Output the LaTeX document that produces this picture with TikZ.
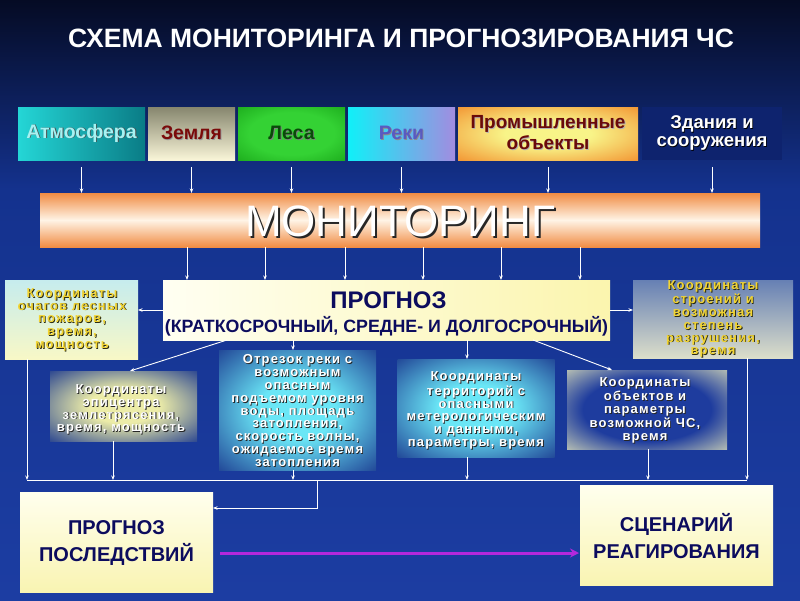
\documentclass[tikz,border=0pt]{standalone}
\usepackage{fontspec}
\setmainfont{Liberation Sans}
\newfontfamily\spaced[LetterSpace=9]{Liberation Sans}
\usetikzlibrary{arrows.meta,calc}
\definecolor{bgTop}{HTML}{050B24}
\definecolor{bgMid}{HTML}{14328E}
\definecolor{bgBot}{HTML}{1C3DA2}
\definecolor{atmL}{HTML}{24D6D6}
\definecolor{atmR}{HTML}{0A7C86}
\definecolor{atmT}{HTML}{A6F2F2}
\definecolor{zemT}{HTML}{F9F5D8}
\definecolor{zemB}{HTML}{86866E}
\definecolor{zemX}{HTML}{7A0A0A}
\definecolor{lesIn}{HTML}{34D234}
\definecolor{lesOut}{HTML}{0A8E0A}
\definecolor{lesX}{HTML}{0A4A0A}
\definecolor{rekL}{HTML}{10F0F8}
\definecolor{rekR}{HTML}{A28CE0}
\definecolor{rekX}{HTML}{5A5AC0}
\definecolor{promIn}{HTML}{F8F488}
\definecolor{promOut}{HTML}{F06E10}
\definecolor{promX}{HTML}{6A0A0A}
\definecolor{zdF}{HTML}{0E236E}
\definecolor{monE}{HTML}{F08C44}
\definecolor{monM}{HTML}{FFF4E6}
\definecolor{progL}{HTML}{FFFFF2}
\definecolor{progR}{HTML}{FBF5AE}
\definecolor{navyT}{HTML}{0C0C5E}
\definecolor{lbT}{HTML}{C6ECEE}
\definecolor{lbB}{HTML}{F8F8C6}
\definecolor{rbT}{HTML}{6680B4}
\definecolor{rbB}{HTML}{DCDECA}
\definecolor{gold}{HTML}{F2D432}
\definecolor{goldSh}{HTML}{2A2A12}
\definecolor{eqIn}{HTML}{ECECA8}
\definecolor{cyIn}{HTML}{6AE6F6}
\definecolor{glowOut}{HTML}{1A378E}
\definecolor{objIn}{HTML}{1E3C9E}
\definecolor{objOut}{HTML}{F2F2BC}
\definecolor{botT}{HTML}{FFFFEE}
\definecolor{botB}{HTML}{F9F4B2}
\definecolor{magenta}{HTML}{B428DC}
\pgfdeclareradialshading{glowY}{\pgfpoint{0bp}{0bp}}{color(0bp)=(eqIn); color(12bp)=(eqIn); color(38bp)=(glowOut); color(50bp)=(glowOut)}
\pgfdeclareradialshading{glowC}{\pgfpoint{0bp}{0bp}}{color(0bp)=(cyIn); color(12bp)=(cyIn); color(38bp)=(glowOut); color(50bp)=(glowOut)}
\pgfdeclareradialshading{glowO}{\pgfpoint{0bp}{0bp}}{color(0bp)=(objIn); color(20bp)=(objIn); color(42bp)=(objOut); color(50bp)=(objOut)}
\pgfdeclareradialshading{glowL}{\pgfpoint{0bp}{0bp}}{color(0bp)=(lesIn); color(20bp)=(lesIn); color(50bp)=(lesOut)}
\pgfdeclareradialshading{glowP}{\pgfpoint{0bp}{0bp}}{color(0bp)=(promIn); color(12bp)=(promIn); color(46bp)=(promOut); color(50bp)=(promOut)}
\newcommand\shd[3][0.9pt]{\makebox[0pt][l]{\kern#1\raisebox{-#1}{\textcolor{#2}{#3}}}#3}
\newcommand\wl[1]{\shd{black!85}{#1}}
\newcommand\gl[1]{\shd{goldSh}{#1}}
\begin{document}
\begin{tikzpicture}[x=1pt,y=-1pt,
  every node/.style={inner sep=0pt,outer sep=0pt},
  arr/.style={draw=white,line width=0.9pt,-{Stealth[length=4.5pt,width=3.5pt]}},
  ln/.style={draw=white,line width=0.9pt},
  topbox/.style={rectangle,minimum height=53pt,align=center,font=\bfseries\fontsize{19.5}{19.5}\selectfont},
  plain/.style={rectangle},
  midtxt/.style={align=center,text=white,font=\spaced\bfseries\fontsize{13}{12.8}\selectfont},
  goldtxt/.style={align=center,text=gold,font=\spaced\bfseries\fontsize{13}{12.7}\selectfont},
  bottxt/.style={align=center,text=navyT,font=\bfseries\fontsize{20}{27}\selectfont}]
\useasboundingbox (0,0) rectangle (800,600);
% background
\shade[top color=bgTop,bottom color=bgMid] (0,0) rectangle (800,190);
\shade[top color=bgMid,bottom color=bgBot] (0,190) rectangle (800,600);
% title
\node[text=white,font=\bfseries\fontsize{26.5}{26.5}\selectfont] (title) at (401,38) {СХЕМА МОНИТОРИНГА И ПРОГНОЗИРОВАНИЯ ЧС};
% top row
\node[topbox,minimum width=127pt,left color=atmL,right color=atmR,text=atmT] (atm) at (81.5,133.5) {\shd{black!70}{Атмосфера}};
\node[topbox,minimum width=87pt,top color=zemB,bottom color=zemT,text=zemX] (zem) at (191.5,133.5) {\shd{black!40}{Земля}};
\node[topbox,minimum width=107pt,shading=glowL,text=lesX] (les) at (291.5,133.5) {\shd{black!50}{Леса}};
\node[topbox,minimum width=107pt,left color=rekL,right color=rekR,text=rekX] (rek) at (401.5,133.5) {\shd{black!45}{Реки}};
\node[topbox,minimum width=180pt,shading=glowP,text=promX,font=\bfseries\fontsize{19}{21}\selectfont] (prom) at (548,133.5) {\shd{black!30}{Промышленные}\\\shd{black!30}{объекты}};
\node[topbox,minimum width=140pt,fill=zdF,text=white,font=\bfseries\fontsize{18.5}{18.5}\selectfont] (zd) at (712,133.5) {\shd[0.7pt]{black}{Здания и}\\\shd[0.7pt]{black}{сооружения}};
% monitoring
\node[plain,minimum width=720pt,minimum height=54pt,top color=monE,bottom color=monE,middle color=monM] (mon) at (400,220) {};
\node[text=white,font=\fontsize{44}{44}\selectfont] (monT) at (400,222) {\shd[2pt]{black!85}{МОНИТОРИНГ}};
\foreach \n in {atm,zem,les,rek,prom,zd}
  \draw[arr] ([yshift=-7pt]\n.south) -- (\n.south |- mon.north);
% prognoz
\node[plain,minimum width=447pt,minimum height=60pt,left color=progL,right color=progR] (prog) at (386.5,310) {};
\node[text=navyT,font=\bfseries\fontsize{24}{24}\selectfont] (progT1) at (388.5,300) {ПРОГНОЗ};
\node[text=navyT,font=\bfseries\fontsize{17.8}{17.8}\selectfont] (progT2) at (386.5,326.5) {(КРАТКОСРОЧНЫЙ, СРЕДНЕ- И ДОЛГОСРОЧНЫЙ)};
\foreach \x in {187,265,345,423,501,580}
  \draw[arr] (\x,0 |- mon.south) -- (\x,0 |- prog.north);
% side boxes
\node[plain,minimum width=133pt,minimum height=79pt,top color=lbT,bottom color=lbB] (lbox) at (71.5,319.5) {};
\node[goldtxt] (lboxT) at (72,320) {\gl{Координаты}\\\gl{очагов лесных}\\\gl{пожаров,}\\\gl{время,}\\\gl{мощность}};
\node[plain,minimum width=160pt,minimum height=78pt,top color=rbT,bottom color=rbB] (rbox) at (713,319) {};
\node[goldtxt] (rboxT) at (713,319.5) {\gl{Координаты}\\\gl{строений и}\\\gl{возможная}\\\gl{степень}\\\gl{разрушения,}\\\gl{время}};
\draw[arr] (prog.west) -- (prog.west -| lbox.east);
\draw[arr] (prog.east) -- (prog.east -| rbox.west);
% middle row
\node[plain,minimum width=147pt,minimum height=70pt,shading=glowY] (eq) at (123.5,406) {};
\node[midtxt] (eqT) at (121,410) {\wl{Координаты}\\\wl{эпицентра}\\\wl{землетрясения,}\\\wl{время, мощность}};
\node[plain,minimum width=157pt,minimum height=120pt,shading=glowC] (riv) at (297.5,410) {};
\node[midtxt] (rivT) at (297.5,411) {\wl{Отрезок реки с}\\\wl{возможным}\\\wl{опасным}\\\wl{подъемом уровня}\\\wl{воды, площадь}\\\wl{затопления,}\\\wl{скорость волны,}\\\wl{ожидаемое время}\\\wl{затопления}};
\node[plain,minimum width=157pt,minimum height=98pt,shading=glowC] (met) at (476,408) {};
\node[midtxt] (metT) at (476,411) {\wl{Координаты}\\\wl{территорий с}\\\wl{опасными}\\\wl{метерологическим}\\\wl{и данными,}\\\wl{параметры, время}};
\node[plain,minimum width=160pt,minimum height=79pt,shading=glowO] (obj) at (647,409.5) {};
\node[midtxt] (objT) at (645,411) {\wl{Координаты}\\\wl{объектов и}\\\wl{параметры}\\\wl{возможной ЧС,}\\\wl{время}};
\draw[arr] ($(prog.south west)+(64,0)$) -- (130,0 |- eq.north);
\draw[arr] (293,0 |- prog.south) -- (293,0 |- riv.north);
\draw[arr] (467,0 |- prog.south) -- (467,0 |- met.north);
\draw[arr] ($(prog.south east)+(-77,0)$) -- (612,0 |- obj.north);
% bus
\coordinate (busL) at (27,480);
\coordinate (busR) at (747,480);
\coordinate (busJ) at (317,480);
\draw[ln] (busL) -- (busR);
\draw[arr] (27,0 |- lbox.south) -- (busL);
\draw[arr] (113,0 |- eq.south) -- (113,0 |- busL);
\draw[arr] (293,0 |- riv.south) -- (293,0 |- busL);
\draw[arr] (467,0 |- met.south) -- (467,0 |- busL);
\draw[arr] (648,0 |- obj.south) -- (648,0 |- busL);
\draw[arr] (747,0 |- rbox.south) -- (busR);
% bottom boxes
\node[plain,minimum width=193pt,minimum height=100pt,top color=botT,bottom color=botB] (pp) at (116.5,542) {};
\node[bottxt] (ppT) at (116.5,543) {ПРОГНОЗ\\ПОСЛЕДСТВИЙ};
\node[plain,minimum width=193pt,minimum height=100pt,top color=botT,bottom color=botB] (sc) at (676.5,535) {};
\node[bottxt] (scT) at (676.5,536) {СЦЕНАРИЙ\\РЕАГИРОВАНИЯ};
\draw[arr] (busJ) |- (pp.east |- 0,508);
\draw[draw=magenta,line width=3pt,-{Stealth[length=9pt,width=9pt]}] ($(pp.east)+(7,11)$) -- ($(sc.west)+(-1,18)$);
\end{tikzpicture}
\end{document}
